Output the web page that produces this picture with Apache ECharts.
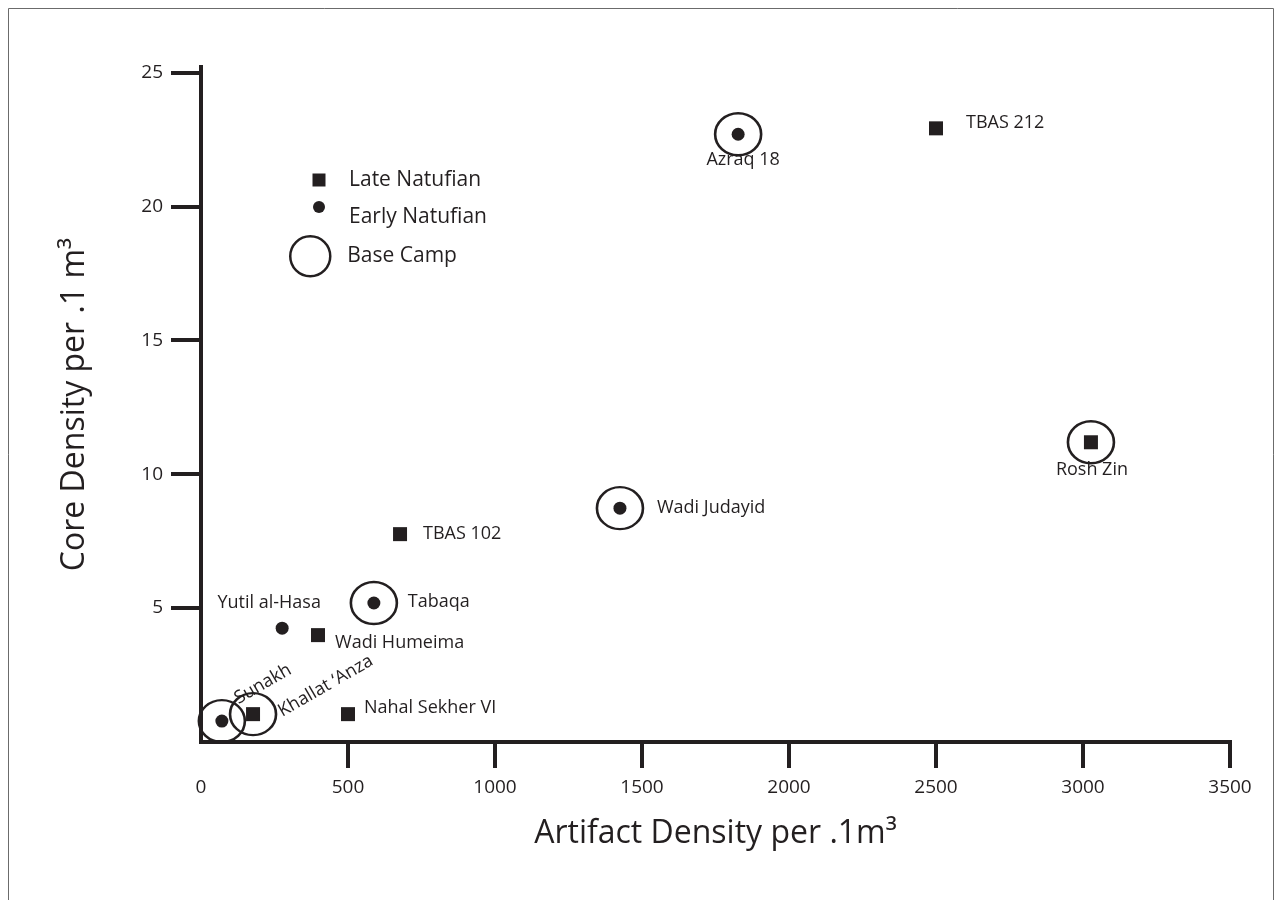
<!DOCTYPE html>
<html>
<head>
<meta charset="utf-8">
<title>Artifact and core density of Natufian sites</title>
<script src="https://cdn.jsdelivr.net/npm/echarts@6/dist/echarts.min.js"></script>
<style>
  html, body { margin: 0; padding: 0; background: #ffffff; }
  #chart { width: 1282px; height: 900px; }
</style>
</head>
<body>
<div id="chart"></div>
<script>
// Late Natufian sites: artifact density vs core density (per .1 m³)
const lateSites    = ['Khallat \u2018Anza', 'Nahal Sekher VI', 'Wadi Humeima', 'TBAS 102', 'TBAS 212', 'Rosh Zin'];
const lateArtifact = [177, 500, 398, 677, 2500, 3027];
const lateCore     = [1.04, 1.04, 3.99, 7.76, 22.91, 11.19];

// Early Natufian sites
const earlySites    = ['Sunakh', 'Yutil al-Hasa', 'Tabaqa', 'Wadi Judayid', 'Azraq 18'];
const earlyArtifact = [71, 276, 588, 1425, 1827];
const earlyCore     = [0.78, 4.25, 5.19, 8.73, 22.69];

// Sites interpreted as base camps (ringed)
const baseCampSites = ['Sunakh', 'Khallat \u2018Anza', 'Tabaqa', 'Wadi Judayid', 'Azraq 18', 'Rosh Zin'];

// Axis ticks
const xTicks = [0, 500, 1000, 1500, 2000, 2500, 3000, 3500];
const yTicks = [5, 10, 15, 20, 25];

const INK = '#231f20';
const FONT = '"Open Sans", "Noto Sans", sans-serif';
const RING = 'path://M0,1A1,1 0 1,1 2,1A1,1 0 1,1 0,1Z';

// Where each site name sits relative to its marker (pixels; rotated labels use the rotated frame)
const labelPlacement = {
  'Sunakh':             { align: 'center', offset: [54, -11.5], rotate: 30 },
  'Khallat \u2018Anza': { align: 'center', offset: [77, 12], rotate: 30 },
  'Nahal Sekher VI':    { align: 'left',   offset: [16, -6] },
  'Yutil al-Hasa':      { align: 'center', offset: [-13, -25] },
  'Wadi Humeima':       { align: 'left',   offset: [17, 8] },
  'Tabaqa':             { align: 'left',   offset: [34, -1] },
  'TBAS 102':           { align: 'left',   offset: [23, 0] },
  'Wadi Judayid':       { align: 'left',   offset: [37, 0] },
  'Azraq 18':           { align: 'center', offset: [5, 26] },
  'TBAS 212':           { align: 'left',   offset: [30, -5] },
  'Rosh Zin':           { align: 'center', offset: [1, 28] }
};

function siteLabel(name) {
  const p = labelPlacement[name];
  return {
    show: true,
    position: 'inside',
    formatter: '{b}',
    color: INK,
    opacity: 1,
    fontSize: 18,
    fontFamily: FONT,
    align: p.align,
    verticalAlign: 'middle',
    offset: p.offset,
    rotate: p.rotate || 0
  };
}

function points(names, xs, ys, withLabels) {
  return names.map((n, i) => {
    const item = { name: n, value: [xs[i], ys[i]] };
    if (withLabels) item.label = siteLabel(n);
    return item;
  });
}

const lateData = points(lateSites, lateArtifact, lateCore, true);
const earlyData = points(earlySites, earlyArtifact, earlyCore, true);

const baseCampData = baseCampSites.map(n => {
  let i = lateSites.indexOf(n);
  if (i >= 0) return { name: n, value: [lateArtifact[i], lateCore[i]] };
  i = earlySites.indexOf(n);
  return { name: n, value: [earlyArtifact[i], earlyCore[i]] };
});

const legendText = { color: INK, fontSize: 21, fontFamily: FONT, lineHeight: 24 };
const plain = v => String(v);

const chart = echarts.init(document.getElementById('chart'), null, { renderer: 'canvas' });

chart.setOption({
  animation: false,
  backgroundColor: '#ffffff',
  graphic: [{
    type: 'rect',
    silent: true,
    shape: { x: 8.5, y: 8.5, width: 1265, height: 905 },
    style: { fill: 'none', stroke: '#6b6b6b', lineWidth: 1 }
  }],
  legend: [
    {
      data: ['Late Natufian'],
      left: 312.5, top: 168, padding: 0,
      itemWidth: 13, itemHeight: 13,
      selectedMode: false,
      textStyle: Object.assign({}, legendText, { padding: [0, 0, 0, 18.5] })
    },
    {
      data: ['Early Natufian'],
      left: 313, top: 186, padding: 0,
      itemWidth: 12, itemHeight: 12,
      selectedMode: false,
      formatter: '\n{name}',
      textStyle: Object.assign({}, legendText, { lineHeight: 21, padding: [0, 0, 0, 19] })
    },
    {
      data: [{ name: 'Base Camp', itemStyle: { color: 'transparent', borderColor: INK, borderWidth: 2.5, opacity: 1 } }],
      left: 289, top: 235, padding: 0,
      itemWidth: 44, itemHeight: 40,
      selectedMode: false,
      textStyle: Object.assign({}, legendText, { padding: [0, 0, 0, 10] })
    }
  ],
  grid: {
    left: 201, right: 52, top: 67, bottom: 158,
    outerBoundsMode: 'none'
  },
  xAxis: {
    type: 'value',
    min: 0, max: 3500, interval: 500,
    name: 'Artifact Density per .1m\u00B3',
    nameLocation: 'middle',
    nameGap: 76,
    nameTextStyle: { color: INK, fontSize: 32, fontFamily: FONT },
    axisLine: { show: true, lineStyle: { color: INK, width: 4, cap: 'square' } },
    axisTick: { show: true, length: 26, customValues: xTicks.slice(1), lineStyle: { color: INK, width: 4 } },
    axisLabel: { color: INK, fontSize: 19, fontFamily: FONT, margin: 36, customValues: xTicks, formatter: plain },
    splitLine: { show: false }
  },
  yAxis: {
    type: 'value',
    min: 0, max: 25.2,
    name: 'Core Density per .1 m\u00B3',
    nameLocation: 'middle',
    nameGap: 110,
    nameTextStyle: { color: INK, fontSize: 32, fontFamily: FONT },
    axisLine: { show: true, lineStyle: { color: INK, width: 4, cap: 'square' } },
    axisTick: { show: true, length: 30, customValues: yTicks, lineStyle: { color: INK, width: 4 } },
    axisLabel: { color: INK, fontSize: 19, fontFamily: FONT, margin: 38, customValues: yTicks, formatter: plain },
    splitLine: { show: false }
  },
  series: [
    {
      name: 'Base Camp',
      type: 'scatter',
      symbol: RING,
      symbolSize: [46, 42],
      itemStyle: { color: 'transparent', borderColor: INK, borderWidth: 2.5, opacity: 1 },
      emphasis: { disabled: true },
      silent: true,
      z: 3,
      data: baseCampData
    },
    {
      name: 'Late Natufian',
      type: 'scatter',
      symbol: 'rect',
      symbolSize: 14,
      itemStyle: { color: INK, opacity: 1 },
      emphasis: { disabled: true },
      z: 4,
      data: lateData
    },
    {
      name: 'Early Natufian',
      type: 'scatter',
      symbol: 'circle',
      symbolSize: 13,
      itemStyle: { color: INK, opacity: 1 },
      emphasis: { disabled: true },
      z: 4,
      data: earlyData
    }
  ]
});
</script>
</body>
</html>
